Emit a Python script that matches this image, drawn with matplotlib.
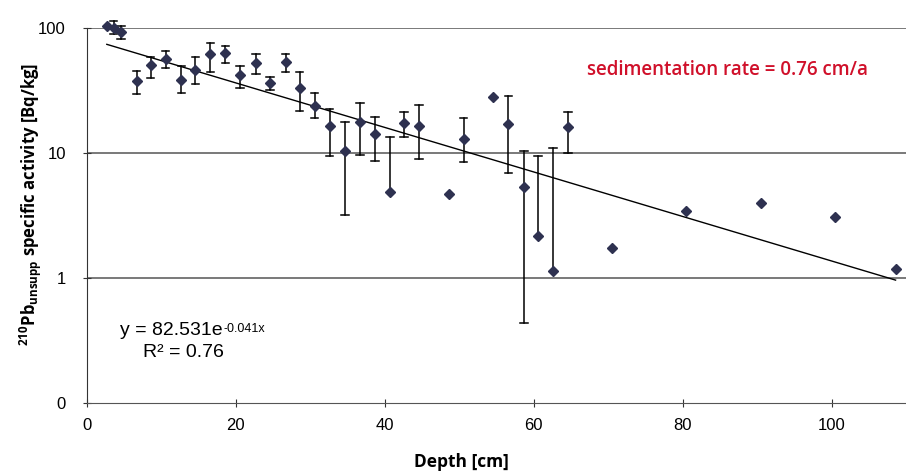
import numpy as np
import matplotlib
matplotlib.use("Agg")
import matplotlib.pyplot as plt

# depth [cm], activity [Bq/kg], error bar limits (lower, upper); None = no bar
depth = [2.7, 3.6, 4.6, 6.7, 8.6, 10.6, 12.7, 14.6, 16.6, 18.6, 20.6, 22.7, 24.6,
         26.7, 28.6, 30.6, 32.6, 34.7, 36.7, 38.7, 40.7, 42.6, 44.6, 48.7, 50.6,
         54.6, 56.6, 58.7, 60.6, 62.6, 64.6, 70.5, 80.5, 90.5, 100.5, 108.6]
activity = [104, 100, 92.4, 37.7, 50.6, 56.5, 38.4, 46.1, 61.6, 62.8, 42.1, 52.8, 36.1,
            53.4, 32.9, 23.8, 16.5, 10.4, 17.8, 14.2, 4.85, 17.3, 16.5, 4.7, 13.0,
            28.2, 17.0, 5.37, 2.15, 1.14, 16.2, 1.75, 3.44, 3.96, 3.09, 1.17]
err_low = [None, 89, 81, 29.5, 39.8, 48, 30.4, 35.5, 44.7, 52.5, 33, 43, 31.8,
           44.7, 21.7, 18.9, 9.5, 3.2, 9.6, 8.6, None, 13.5, 9.0, None, 8.4,
           None, 6.9, 0.44, None, None, 10.0, None, None, None, None, None]
err_high = [None, 113.7, 104, 45.5, 59, 65.6, 49.6, 58.4, 75.7, 71.3, 49.8, 62, 40.2,
            62, 44.7, 30.4, 22.5, 17.7, 25.1, 19.5, 13.3, 21.3, 24, None, 19.0,
            None, 28.7, 10.4, 9.4, 11.0, 21.4, None, None, None, None, None]

fit_a = 82.531
fit_b = -0.041

plt.rcParams['mathtext.fontset'] = 'custom'
plt.rcParams['mathtext.rm'] = 'Open Sans'
plt.rcParams['mathtext.bf'] = 'Open Sans:bold'
plt.rcParams['mathtext.it'] = 'Open Sans:italic'

fig = plt.figure(figsize=(9.06, 4.73), dpi=100)
ax = fig.add_axes([0.0957, 0.148, 0.9043, 0.793])

ax.set_yscale('log')
ax.set_xlim(0, 110)
ax.set_ylim(0.1, 100)

# grid lines at decades
for g in [1, 10, 100]:
    ax.axhline(g, color='#555555', lw=1.1, zorder=1)

# error bars
d = np.array(depth)
a = np.array(activity)
for i in range(len(depth)):
    lo, hi = err_low[i], err_high[i]
    if lo is None and hi is None:
        continue
    y0 = lo if lo is not None else a[i]
    y1 = hi if hi is not None else a[i]
    ax.plot([d[i], d[i]], [y0, y1], color='black', lw=1.1, zorder=2, clip_on=False)
    if lo is not None:
        ax.plot([d[i] - 0.5, d[i] + 0.5], [lo, lo], color='black', lw=1.1, zorder=2, clip_on=False)
    if hi is not None:
        ax.plot([d[i] - 0.5, d[i] + 0.5], [hi, hi], color='black', lw=1.1, zorder=2, clip_on=False)

# fit line
xf = np.linspace(d.min(), d.max(), 200)
ax.plot(xf, fit_a * np.exp(fit_b * xf), color='black', lw=1, zorder=3)

ax.plot(d, a, linestyle='none', marker='D', ms=5.5, color='#2e3150', zorder=4, clip_on=False)

for s in ['top', 'right']:
    ax.spines[s].set_visible(False)
ax.spines['left'].set_color('#333333')
ax.spines['bottom'].set_color('#555555')

ax.set_yticks([0.1, 1, 10, 100])
ax.set_yticklabels(['0', '1', '10', '100'])
ax.minorticks_off()
ax.set_xticks([0, 20, 40, 60, 80, 100])
ax.tick_params(axis='both', direction='inout', length=6, width=0.8, colors='#333333',
               labelsize=12, labelcolor='black')
ax.tick_params(axis='y', pad=12)
ax.tick_params(axis='x', pad=8)
for lab in ax.get_xticklabels() + ax.get_yticklabels():
    lab.set_family('Liberation Sans')

ax.set_xlabel('Depth [cm]', family='Open Sans', fontweight='bold', fontsize=12.5, va='center')
ax.xaxis.set_label_coords(0.457, -0.157)
ax.set_ylabel(r'$\mathbf{^{210}Pb_{unsupp}}$ specific activity [Bq/kg]', family='Open Sans',
              fontweight='bold', fontsize=12, va='center')
ax.yaxis.set_label_coords(-0.068, 0.53)

fig.text(0.648, 0.852, 'sedimentation rate = 0.76 cm/a',
         color='#d0102a', fontsize=13.5, family='Open Sans', fontweight='semibold', va='center')

t1 = fig.text(0.132, 0.302, 'y = 82.531e', family='Liberation Sans', fontsize=14, va='center')
ax.annotate('-0.041x', xy=(1, 1), xycoords=t1, xytext=(1, -1), textcoords='offset points',
            va='top', ha='left', family='Liberation Sans', fontsize=9)
fig.text(0.158, 0.254, 'R² = 0.76', family='Liberation Sans', fontsize=14, va='center')

fig.savefig('out.png', dpi=100)
